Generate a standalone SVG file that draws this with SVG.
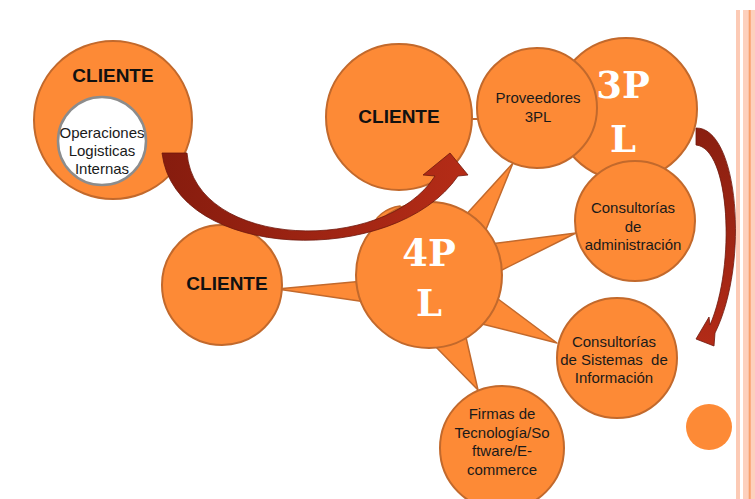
<svg xmlns="http://www.w3.org/2000/svg" width="755" height="499" viewBox="0 0 755 499">
<defs>
<linearGradient id="gL" x1="160" y1="0" x2="470" y2="0" gradientUnits="userSpaceOnUse"><stop offset="0" stop-color="#861C0E"/><stop offset="1" stop-color="#B52C17"/></linearGradient>
<linearGradient id="gR" x1="0" y1="128" x2="0" y2="346" gradientUnits="userSpaceOnUse"><stop offset="0" stop-color="#8A1F10"/><stop offset="1" stop-color="#B22B17"/></linearGradient>
<style>
.c{fill:#FD8A36;stroke:#C2692C;stroke-width:2}
.sp{fill:#FD8A36;stroke:#C2692C;stroke-width:1.5;stroke-linejoin:round}
.t{font-family:"Liberation Sans",Arial,sans-serif;font-size:15px;fill:#1a1a1a;text-anchor:middle}
.b{font-family:"Liberation Sans",Arial,sans-serif;font-size:19px;font-weight:bold;fill:#111;text-anchor:middle}
.w{font-family:"DejaVu Serif","Liberation Serif",serif;font-size:37px;font-weight:bold;fill:#fff;text-anchor:middle}
.ar{stroke:#6E180C;stroke-width:0.8;stroke-linejoin:round}
</style>
</defs>
<rect width="755" height="499" fill="#fff"/>
<g id="border">
<rect x="736" y="10" width="4" height="489" fill="#FCCAB5"/>
<rect x="743" y="10" width="12" height="489" fill="#FDD0BD"/>
<rect x="748.7" y="10" width="2" height="489" fill="#F9A06C"/>
</g>
<g id="connectors">
<polygon class="sp" points="513,163 463,218 485,232"/>
<polygon class="sp" points="576,233 490,244 498,272"/>
<polygon class="sp" points="557,343 490,293 478,323"/>
<polygon class="sp" points="478,390 434,345 465,333"/>
<polygon class="sp" points="277,289 364,281 366,302"/>
<path class="sp" d="M372,229 C374,217 386,208 400,206 L410,215 Z"/>
<line x1="471" y1="119" x2="479" y2="119" stroke="#C2692C" stroke-width="2"/>
</g>
<g id="n-3pl">
<circle class="c" cx="626" cy="109" r="71"/>
<text class="w" x="623" y="98">3P</text>
<text class="w" x="623" y="152">L</text>
</g>
<g id="n-cliente-izq">
<circle class="c" cx="113" cy="120" r="79"/>
<text class="b" x="113" y="82">CLIENTE</text>
<circle cx="102" cy="141" r="44" fill="#fff" stroke="#8C8C8C" stroke-width="2.5"/>
<text class="t" x="102" y="138">Operaciones</text>
<text class="t" x="102" y="156">Logisticas</text>
<text class="t" x="102" y="174">Internas</text>
</g>
<g id="n-cliente-sup">
<circle class="c" cx="399" cy="117" r="73"/>
<text class="b" x="399" y="123">CLIENTE</text>
</g>
<g id="n-proveedores">
<circle class="c" cx="537" cy="108" r="60"/>
<text class="t" x="538" y="103">Proveedores</text>
<text class="t" x="538" y="122">3PL</text>
</g>
<g id="n-admin">
<circle class="c" cx="635" cy="221" r="60"/>
<text class="t" x="633" y="213">Consultorías</text>
<text class="t" x="633" y="232">de</text>
<text class="t" x="633" y="250">administración</text>
</g>
<g id="n-4pl">
<circle class="c" cx="429" cy="275" r="73"/>
<text class="w" x="429" y="266">4P</text>
<text class="w" x="429" y="316">L</text>
</g>
<g id="n-cliente-inf">
<circle class="c" cx="222" cy="285" r="60"/>
<text class="b" x="227" y="290">CLIENTE</text>
</g>
<g id="n-sistemas">
<circle class="c" cx="617" cy="358" r="60"/>
<text class="t" x="614" y="347">Consultorías</text>
<text class="t" x="614" y="365">de Sistemas &#160;de</text>
<text class="t" x="614" y="383">Información</text>
</g>
<g id="n-firmas">
<circle class="c" cx="502" cy="448" r="62"/>
<text class="t" x="502" y="419">Firmas de</text>
<text class="t" x="502" y="437.5">Tecnología/So</text>
<text class="t" x="502" y="456">ftware/E-</text>
<text class="t" x="502" y="474.5">commerce</text>
</g>
<g id="n-punto">
<circle cx="709" cy="427" r="23" fill="#FD8A36"/>
</g>
<g id="arrows">
<path class="ar" fill="url(#gL)" d="M162,153 L187,153 C195,250 385,255 435,176 L423,175 L450,153 L468,175 L458,176 C395,268 175,262 162,153 Z"/>
<path class="ar" fill="url(#gR)" d="M696,128 C738,127 750,262 715,333 L714,346 L696,339 L709,317 L710,325 C736,265 730,148 696,145 Z"/>
</g>
</svg>
